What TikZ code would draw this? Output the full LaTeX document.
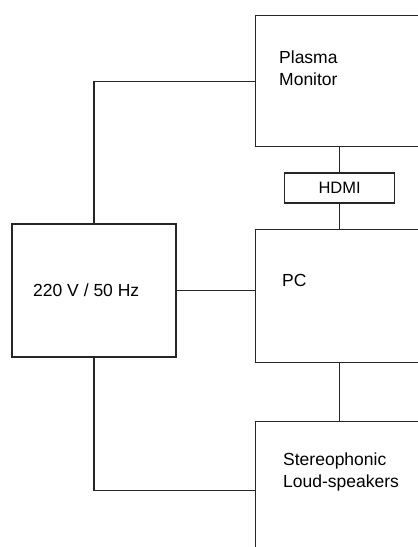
\documentclass[tikz,border=0pt]{standalone}
\usepackage{fontspec}
\setmainfont{Liberation Sans}
\usetikzlibrary{positioning}

\begin{document}
\begin{tikzpicture}[
    x=1pt, y=-1pt,
    node distance=26pt,
    block/.style={rectangle, draw=black!85, line width=1.3pt, minimum width=168pt, minimum height=131pt, inner sep=0pt},
    blocktext/.style={anchor=base west, align=left, inner sep=0pt, font=\fontsize{17.5}{21.5}\selectfont},
    wire/.style={draw=black!85, line width=1.3pt}
]
\useasboundingbox (0,0) rectangle (418,547);
\clip (0,0) rectangle (418,547);
\fill[white] (0,0) rectangle (418,547);

\node[block, anchor=north west] (monitor) at (255,15) {};
\node[block, below=25pt of monitor, minimum width=110pt, minimum height=30pt, font=\fontsize{16.5}{19}\selectfont] (hdmi) {HDMI};
\node[block, below=25pt of hdmi, minimum height=133pt] (pc) {};
\node[block, below=58pt of pc, minimum height=138pt] (speakers) {};
\node[block, minimum width=164pt, minimum height=133pt] (power) at (94,290.5) {};

\node[blocktext] (monitortext) at (279,85) {Plasma\\Monitor};
\node[blocktext] (pctext) at (282,286) {PC};
\node[blocktext] (powertext) at (33,296) {220 V / 50 Hz};
\node[blocktext] (speakerstext) at (283,487) {Stereophonic\\Loud-speakers};

\draw[wire] (power.north) |- (monitor.west);
\draw[wire] (power.east) -- (power.east -| pc.west);
\draw[wire] (power.south) |- (speakers.west);
\draw[wire] (hdmi.north) -- (hdmi.north |- monitor.south);
\draw[wire] (hdmi.south) -- (hdmi.south |- pc.north);
\draw[wire] (pc.south) -- (speakers.north);
\end{tikzpicture}
\end{document}
